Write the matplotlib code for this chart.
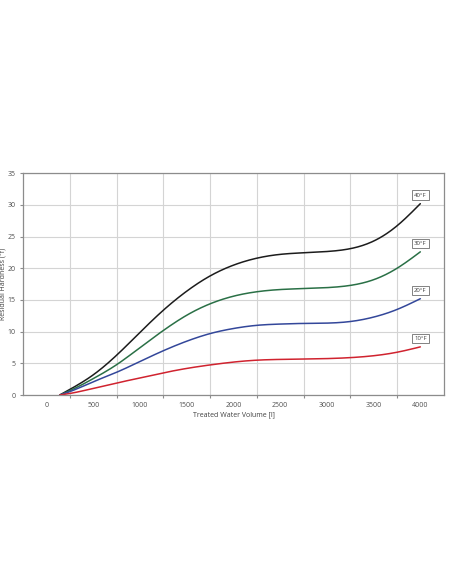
import numpy as np
import matplotlib
matplotlib.use("Agg")
import matplotlib.pyplot as plt
from matplotlib.ticker import FixedLocator

# ---- data ----
volume = [140, 250, 500, 750, 1000, 1250, 1500, 1750, 2000, 2250, 2500, 2750, 3000, 3250, 3500, 3750, 4000]
hard_40 = [0, 0.9, 3.2, 6.3, 9.9, 13.4, 16.4, 18.8, 20.5, 21.6, 22.2, 22.45, 22.65, 23.1, 24.3, 26.7, 30.2]
hard_30 = [0, 0.7, 2.6, 4.8, 7.5, 10.2, 12.6, 14.4, 15.6, 16.3, 16.65, 16.8, 16.95, 17.3, 18.2, 20.0, 22.6]
hard_20 = [0, 0.55, 2.1, 3.6, 5.3, 7.0, 8.5, 9.7, 10.5, 11.0, 11.2, 11.3, 11.35, 11.6, 12.3, 13.5, 15.2]
hard_10 = [0, 0.25, 1.05, 1.9, 2.7, 3.5, 4.2, 4.75, 5.2, 5.5, 5.62, 5.68, 5.75, 5.9, 6.2, 6.75, 7.6]
series_labels = ["40°F", "30°F", "20°F", "10°F"]
x_ticks = [0, 500, 1000, 1500, 2000, 2500, 3000, 3500, 4000]
y_ticks = [0, 5, 10, 15, 20, 25, 30, 35]

colors = ["#1c1c1c", "#2a7046", "#33479a", "#d0232f"]


def smooth(x, y, n=25):
    """Natural cubic spline drawing of a smoothed line through the points."""
    x = np.asarray(x, float)
    y = np.asarray(y, float)
    k = len(x)
    h = np.diff(x)
    A = np.zeros((k, k))
    b = np.zeros(k)
    A[0, 0] = A[-1, -1] = 1
    for i in range(1, k - 1):
        A[i, i - 1] = h[i - 1]
        A[i, i] = 2 * (h[i - 1] + h[i])
        A[i, i + 1] = h[i]
        b[i] = 6 * ((y[i + 1] - y[i]) / h[i] - (y[i] - y[i - 1]) / h[i - 1])
    M = np.linalg.solve(A, b)
    xs, ys = [], []
    for i in range(k - 1):
        t = np.linspace(x[i], x[i + 1], n, endpoint=False)
        a = (x[i + 1] - t) / h[i]
        c = (t - x[i]) / h[i]
        yy = (a * y[i] + c * y[i + 1]
              + ((a**3 - a) * M[i] + (c**3 - c) * M[i + 1]) * h[i] ** 2 / 6)
        xs.append(t)
        ys.append(yy)
    xs.append([x[-1]])
    ys.append([y[-1]])
    return np.concatenate(xs), np.concatenate(ys)


plt.rcParams["font.family"] = ["Open Sans", "DejaVu Sans"]

fig = plt.figure(figsize=(4.52, 5.84), dpi=100)
ax = fig.add_axes([0.0516, 0.3236, 0.9300, 0.3797])

ax.set_xlim(-250, 4250)
ax.set_ylim(0, 35)

grid_c = "#d4d4d4"
spine_c = "#8c8c8c"

ax.xaxis.set_major_locator(FixedLocator(x_ticks))
ax.xaxis.set_minor_locator(FixedLocator([250, 750, 1250, 1750, 2250, 2750, 3250, 3750]))
ax.yaxis.set_major_locator(FixedLocator(y_ticks))
ax.grid(which="minor", axis="x", color=grid_c, lw=0.8)
ax.grid(which="major", axis="y", color=grid_c, lw=0.8)
ax.set_axisbelow(True)

ax.tick_params(axis="x", which="major", length=0, pad=5, labelsize=5, labelcolor="#505050")
ax.tick_params(axis="x", which="minor", length=2.5, color=spine_c, width=0.8, direction="out")
ax.tick_params(axis="y", which="major", length=2.5, color=spine_c, width=0.8, pad=3,
               labelsize=5, labelcolor="#505050")

for s in ax.spines.values():
    s.set_color(spine_c)
    s.set_linewidth(0.9)

for yv, c, lab in zip([hard_40, hard_30, hard_20, hard_10], colors, series_labels):
    xs, ys = smooth(volume, yv)
    ys = np.clip(ys, 0, None)
    ax.plot(xs, ys, color=c, lw=1.1, solid_capstyle="round")
    ax.annotate(lab, xy=(volume[-1], yv[-1]), xytext=(0, 6.2), textcoords="offset points",
                ha="center", va="center", fontsize=4.3, color="#404040",
                bbox=dict(boxstyle="square,pad=0.35", fc="white", ec="#6e6e6e", lw=0.6))

ax.set_xlabel("Treated Water Volume [l]", fontsize=5, color="#404040", labelpad=2)
ax.set_ylabel("Residual Hardness (°f)", fontsize=5, color="#404040")
ax.yaxis.set_label_coords(-0.038, 0.5)

fig.savefig("out.png", dpi=100, facecolor="white")
